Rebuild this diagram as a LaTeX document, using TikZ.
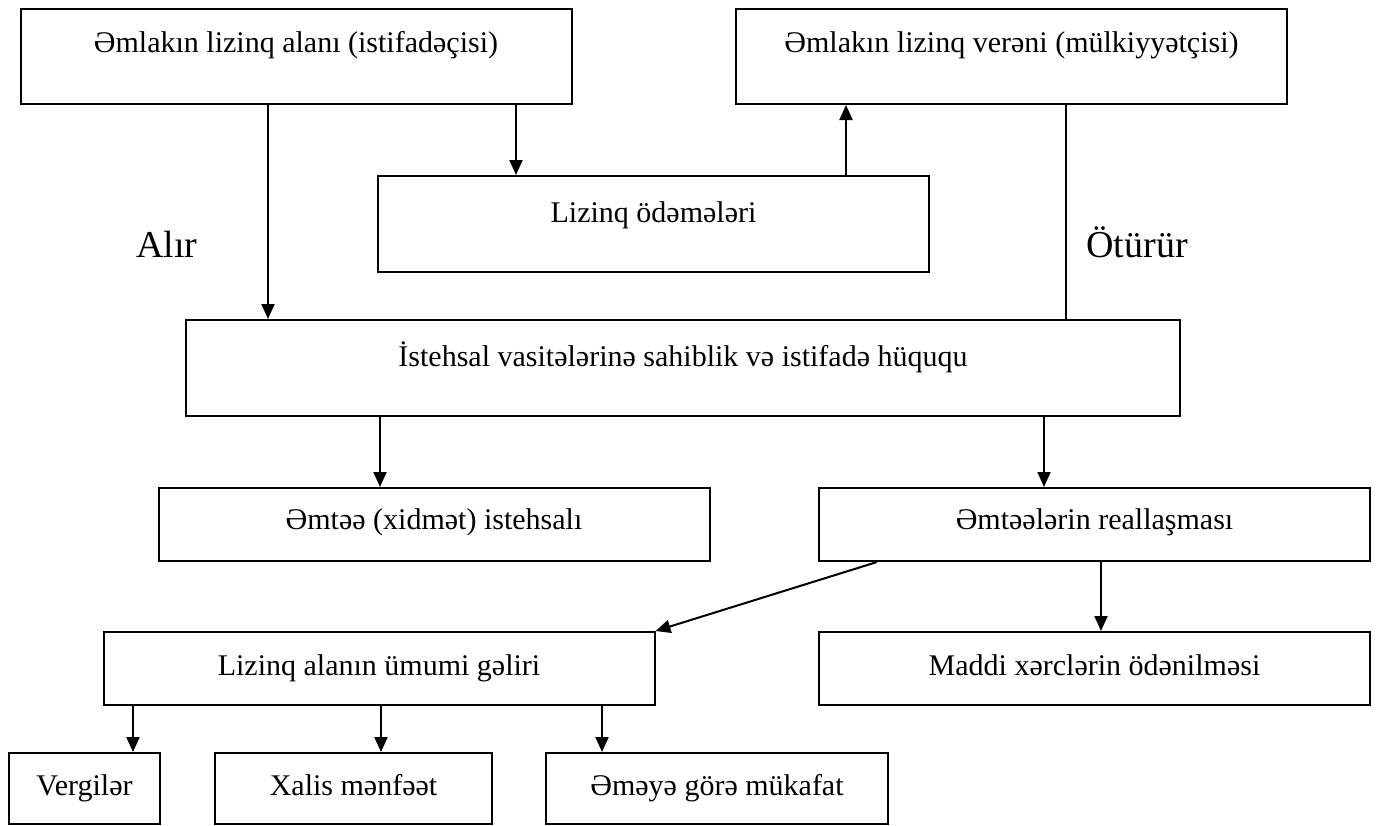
\documentclass[tikz,border=0pt]{standalone}
\usepackage{fontspec}
\setmainfont{Liberation Serif}
\usetikzlibrary{arrows.meta}

\begin{document}
\begin{tikzpicture}[x=1pt,y=-1pt,
  box/.style={draw=black, line width=2pt, rectangle, inner sep=0pt, fill=white},
  wide/.style={box, minimum width=551pt},
  txt/.style={anchor=base, inner sep=0pt, font=\fontsize{30}{34}\selectfont},
  biglabel/.style={anchor=base, inner sep=0pt, font=\fontsize{38}{44}\selectfont},
  arr/.style={line width=2pt, -{Triangle[length=15pt,width=13pt]}},
  plainline/.style={line width=1.3pt}]

\useasboundingbox (0,0) rectangle (1376,825);

% top row: lessee and lessor
\node[wide, minimum height=95pt] (b1) at (296,56.5) {};
\node[txt] (t1) at (296,52) {Əmlakın lizinq alanı (istifadəçisi)};
\node[wide, minimum height=95pt] (b2) at (1011.5,56.5) {};
\node[txt] (t2) at (1011.5,52) {Əmlakın lizinq verəni (mülkiyyətçisi)};

% leasing payments
\node[wide, minimum height=96pt] (b3) at (653.5,224) {};
\node[txt] (t3) at (653.5,222) {Lizinq ödəmələri};

% right of possession and use
\node[box, minimum width=994pt, minimum height=96pt] (b4) at (683,368) {};
\node[txt] (t4) at (683,366) {İstehsal vasitələrinə sahiblik və istifadə hüququ};

% production and sales
\node[wide, minimum height=73pt] (b5) at (434,524.5) {};
\node[txt] (t5) at (434,529) {Əmtəə (xidmət) istehsalı};
\node[wide, minimum height=73pt] (b6) at (1094.5,524.5) {};
\node[txt] (t6) at (1094.5,529) {Əmtəələrin reallaşması};

% income and material costs
\node[wide, minimum height=73pt] (b7) at (379,668.5) {};
\node[txt] (t7) at (379,675) {Lizinq alanın ümumi gəliri};
\node[wide, minimum height=73pt] (b8) at (1094.5,668.5) {};
\node[txt] (t8) at (1094.5,675) {Maddi xərclərin ödənilməsi};

% distribution of income
\node[box, minimum width=151pt, minimum height=71pt] (b9) at (84.5,788.5) {};
\node[txt] (t9) at (84.5,795) {Vergilər};
\node[box, minimum width=277pt, minimum height=71pt] (b10) at (353.5,788.5) {};
\node[txt] (t10) at (353.5,795) {Xalis mənfəət};
\node[box, minimum width=342pt, minimum height=71pt] (b11) at (717,788.5) {};
\node[txt] (t11) at (717,795) {Əməyə görə mükafat};

% side labels
\node[biglabel] (alir) at (167,257) {Alır};
\node[biglabel] (oturur) at (1137,257) {Ötürür};

% connectors
\draw[arr] ([xshift=-28pt]b1.south) -- ([xshift=-28pt]b1.south |- b4.north);
\draw[arr] ([xshift=220pt]b1.south) -- ([xshift=220pt]b1.south |- b3.north);
\draw[arr] ([xshift=192.5pt]b3.north) -- ([xshift=192.5pt]b3.north |- b2.south);
\draw[plainline] ([xshift=54.5pt]b2.south) -- ([xshift=54.5pt]b2.south |- b4.north);
\draw[arr] ([xshift=-303pt]b4.south) -- ([xshift=-303pt]b4.south |- b5.north);
\draw[arr] ([xshift=361pt]b4.south) -- ([xshift=361pt]b4.south |- b6.north);
\draw[arr] ([xshift=-217.5pt]b6.south) -- (b7.north east);
\draw[arr] ([xshift=6.5pt]b6.south) -- ([xshift=6.5pt]b6.south |- b8.north);
\draw[arr] ([xshift=-246pt]b7.south) -- ([xshift=-246pt]b7.south |- b9.north);
\draw[arr] ([xshift=2pt]b7.south) -- ([xshift=2pt]b7.south |- b10.north);
\draw[arr] ([xshift=223pt]b7.south) -- ([xshift=223pt]b7.south |- b11.north);
\end{tikzpicture}
\end{document}
